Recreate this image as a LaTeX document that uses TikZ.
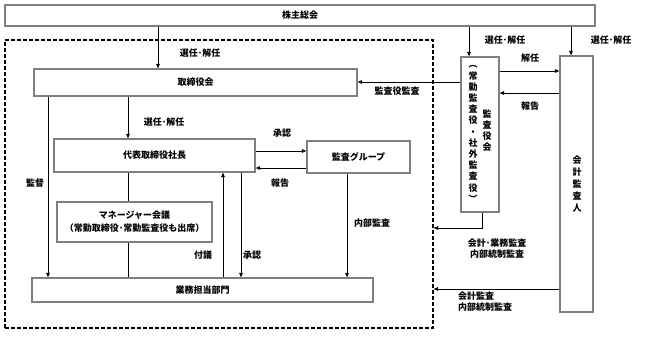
\documentclass[tikz,border=0pt]{standalone}
\usepackage{fontspec}
\setmainfont{Noto Sans CJK JP}
\usetikzlibrary{arrows.meta}
\begin{document}
\begin{tikzpicture}[x=1pt,y=-1pt,
  box/.style={draw=black!50, line width=1.3pt, fill=white, inner sep=0pt},
  arr/.style={-{Triangle[length=4.5pt,width=3.6pt]}, line width=0.7pt},
  ln/.style={line width=0.7pt},
  lbl/.style={font=\fontsize{9}{11}\selectfont\bfseries, inner sep=1pt},
  txt/.style={font=\fontsize{9}{11}\selectfont\bfseries}]
\useasboundingbox (0,0) rectangle (648,337);
% boxes
\node[box, minimum width=590pt, minimum height=21pt, txt] (top) at (300,15.5) {株主総会};
\node[draw, dashed, line width=1.2pt, dash pattern=on 4pt off 2pt, minimum width=428pt, minimum height=288pt, inner sep=0pt] (grp) at (219,184) {};
\node[box, minimum width=323pt, minimum height=27pt, txt] (tori) at (195.5,82.5) {取締役会};
\node[box, minimum width=201pt, minimum height=33pt, txt] (pres) at (154.5,155.5) {代表取締役社長};
\node[box, minimum width=103pt, minimum height=32pt, txt] (audg) at (358.5,157) {監査グループ};
\node[box, minimum width=155pt, minimum height=40pt, align=center, font=\fontsize{9}{13}\selectfont\bfseries] (mgr) at (134.5,222) {マネージャー会議\\（常勤取締役･常勤監査役も出席）};
\node[box, minimum width=341pt, minimum height=24pt, txt] (gyo) at (202.5,290) {業務担当部門};
\node[box, minimum width=38pt, minimum height=155pt] (kansa) at (480,134.5) {};
\node[box, minimum width=33pt, minimum height=256pt] (kaikei) at (576.5,184) {};
% vertical texts
\node[align=center, font=\fontsize{9}{11.2}\selectfont\bfseries, inner sep=0pt] (kv1) at (473,134) {︵\\常\\勤\\監\\査\\役\\・\\社\\外\\監\\査\\役\\︶};
\node[align=center, font=\fontsize{9}{11}\selectfont\bfseries, inner sep=0pt] (kv2) at (487,131) {監\\査\\役\\会};
\node[align=center, font=\fontsize{9}{12}\selectfont\bfseries, inner sep=0pt] (kv3) at (577,184) {会\\計\\監\\査\\人};
% column / row coordinates
\coordinate (cA) at (158,0);
\coordinate (cB) at (469,0);
\coordinate (cC) at (571,0);
\coordinate (cD) at (48,0);
\coordinate (cE) at (128,0);
\coordinate (cF) at (223,0);
\coordinate (cG) at (241,0);
\coordinate (cH) at (347,0);
\coordinate (cI) at (482,0);
\coordinate (r1) at (0,151);
\coordinate (r2) at (0,168);
\coordinate (r3) at (0,71);
\coordinate (r4) at (0,93);
\coordinate (r5) at (0,82);
\coordinate (r6) at (0,228);
\coordinate (r7) at (0,289);
% connectors
\draw[arr] (top.south -| cA) -- (tori.north -| cA);
\draw[arr] (top.south -| cB) -- (kansa.north -| cB);
\draw[arr] (top.south -| cC) -- (kaikei.north -| cC);
\draw[arr] (tori.south -| cD) -- (gyo.north -| cD);
\draw[arr] (tori.south -| cE) -- (pres.north -| cE);
\draw[ln] (pres.south -| cE) -- (mgr.north -| cE);
\draw[ln] (mgr.south -| cE) -- (gyo.north -| cE);
\draw[arr] (gyo.north -| cF) -- (pres.south -| cF);
\draw[arr] (pres.south -| cG) -- (gyo.north -| cG);
\draw[arr] (audg.south -| cH) -- (gyo.north -| cH);
\draw[arr] (pres.east |- r1) -- (audg.west |- r1);
\draw[arr] (audg.west |- r2) -- (pres.east |- r2);
\draw[arr] (kansa.east |- r3) -- (kaikei.west |- r3);
\draw[arr] (kaikei.west |- r4) -- (kansa.east |- r4);
\draw[arr] (kansa.west |- r5) -- (tori.east |- r5);
\draw[arr] (kansa.south -| cI) |- (grp.east |- r6);
\draw[arr] (kaikei.west |- r7) -- (grp.east |- r7);
% labels
\node[lbl] (l1) at (200,53) {選任･解任};
\node[lbl] (l2) at (505,40) {選任･解任};
\node[lbl] (l3) at (611,40) {選任･解任};
\node[lbl] (l4) at (164,122) {選任･解任};
\node[lbl] (l5) at (397,91) {監査役監査};
\node[lbl] (l6) at (530,58) {解任};
\node[lbl] (l7) at (530,106) {報告};
\node[lbl] (l8) at (282,133) {承認};
\node[lbl] (l9) at (280,183) {報告};
\node[lbl] (l10) at (35,183) {監督};
\node[lbl] (l11) at (203,255) {付議};
\node[lbl] (l12) at (252,255) {承認};
\node[lbl] (l13) at (372,223) {内部監査};
\node[lbl, align=center] (l14) at (497,249) {会計･業務監査\\内部統制監査};
\node[lbl, align=left, anchor=west] (l15) at (457,302) {会計監査\\内部統制監査};
\end{tikzpicture}
\end{document}
